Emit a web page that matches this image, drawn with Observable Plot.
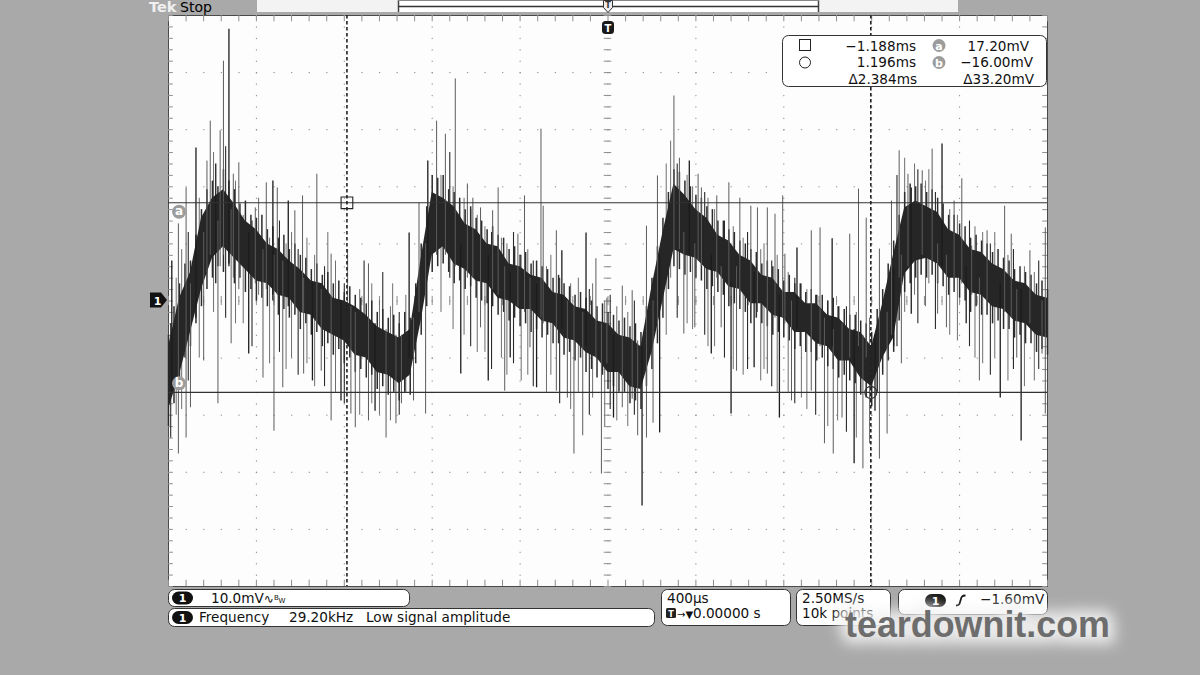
<!DOCTYPE html>
<html>
<head>
<meta charset="utf-8">
<script src="https://cdn.jsdelivr.net/npm/d3@7"></script>
<script src="https://cdn.jsdelivr.net/npm/@observablehq/plot@0.6"></script>
<style>
html,body{margin:0;padding:0;}
body{width:1200px;height:675px;background:#a9a9a9;position:relative;overflow:hidden;font-family:"DejaVu Sans",sans-serif;}
#chart{position:absolute;left:0;top:0;}
#overlay{position:absolute;left:0;top:0;}
</style>
</head>
<body>
<div id="chart"></div>
<svg id="overlay" width="1200" height="675"></svg>
<script>
// ---------------- data (time in µs, amplitude in mV) ----------------
// dense core of the trace
const bandT = [-2000,-1950,-1900,-1850,-1800,-1750,-1700,-1650,-1600,-1550,-1500,-1450,-1400,-1350,-1300,-1250,-1200,-1150,-1100,-1050,
  -1000,-950,-900,-850,-800,-750,-700,-650,-600,-550,-500,-450,-400,-350,-300,-250,-200,-150,-100,-50,
  0,50,100,150,200,250,300,350,400,450,500,550,600,650,700,750,800,850,900,950,
  1000,1050,1100,1150,1200,1250,1300,1350,1400,1450,1500,1550,1600,1650,1700,1750,1800,1850,1900,1950,2000];
const bandLo = [-19,-13,-5.5,2,7.5,9.5,7.5,5.5,3.5,3,1,0.5,-2,-2.5,-5,-6,-7,-9.5,-10,-12.5,
  -13,-14.5,-13,-3.5,8,9.5,6.5,5.5,3.5,3,0.5,0,-1.5,-1.5,-3.5,-4,-6.5,-7,-9,-10,
  -12.5,-12.5,-15,-15.5,-9,0,9,8,7.5,5.5,5,2.5,2,-0.5,-0.5,-2.5,-3,-5.5,-5.5,-7.5,
  -8,-10.5,-10.5,-13.5,-15,-10,-6.5,4.7,7,7.5,6.5,4,4,1.5,1,-1,-1.5,-3.5,-4,-6,-6.5];
const bandHi = [-8,0.5,5,14.5,18,19.5,17,14,12.5,10,9,7,5.5,3.5,3,0.5,0,-1,-2.5,-4.5,
  -5.5,-6.5,-5,7.5,19,18,16.5,13.5,12.5,10,9.5,6.5,6,4.5,4,1.5,1,-1,-1.5,-3.5,
  -4,-6,-6.5,-8,2.5,12,20.5,18.5,16,14.5,11.5,10.5,8,7,4.5,4,1.5,1.5,-0.5,-0.5,
  -2.5,-3,-5,-5.5,-8,-0.5,8.2,16.3,17.5,16.5,15.5,12.5,11.5,9,8.5,6.5,5.5,3.5,3,1,0.5];
// ragged outer edge of the trace, every 25 µs
const fringeT = [-2000,-1975,-1950,-1925,-1900,-1875,-1850,-1825,-1800,-1775,-1750,-1725,-1700,-1675,-1650,-1625,-1600,-1575,-1550,-1525,
  -1500,-1475,-1450,-1425,-1400,-1375,-1350,-1325,-1300,-1275,-1250,-1225,-1200,-1175,-1150,-1125,-1100,-1075,-1050,-1025,
  -1000,-975,-950,-925,-900,-875,-850,-825,-800,-775,-750,-725,-700,-675,-650,-625,-600,-575,-550,-525,
  -500,-475,-450,-425,-400,-375,-350,-325,-300,-275,-250,-225,-200,-175,-150,-125,-100,-75,-50,-25,
  0,25,50,75,100,125,150,175,200,225,250,275,300,325,350,375,400,425,450,475,
  500,525,550,575,600,625,650,675,700,725,750,775,800,825,850,875,900,925,950,975,
  1000,1025,1050,1075,1100,1125,1150,1175,1200,1225,1250,1275,1300,1325,1350,1375,1400,1425,1450,1475,
  1500,1525,1550,1575,1600,1625,1650,1675,1700,1725,1750,1775,1800,1825,1850,1875,1900,1925,1950,1975,2000];
const fringeLo = [-22,-18,-15.5,-10,-8,-4,-1,2,4,6,5,6.5,3,4,1.5,2,0,0.5,-1,0,
  -2.5,-1.5,-3,-2.5,-5,-4,-6,-5.5,-8,-7.5,-9.5,-8.5,-11,-10,-12.5,-12,-13.5,-13,-15.5,-15,
  -16.5,-16,-17.5,-16,-16.5,-11,-6,-1,5,6,6.5,5,3,3.5,2,2.5,0.5,0,-0.5,-1,
  -2.5,-2,-3.5,-3,-4.5,-4,-5.5,-5,-6.5,-6,-7.5,-7.5,-9.5,-9,-10.5,-10,-12.5,-12,-13.5,-13,
  -15.5,-15,-16,-16,-18,-17.5,-19,-15,-12,-7.5,-3,2,6,5.5,4.5,5,4,3.5,2,2.5,
  1.5,1,-1,-0.5,-1.5,-2,-4,-3,-4,-4.5,-6,-5.5,-6.5,-7,-8.5,-8,-9,-9,-10.5,-10,
  -11.5,-12,-13.5,-13,-14,-14.5,-16.5,-17,-18.5,-16,-13,-10.5,-9,-3.5,1.5,3,4,4.5,4,4.5,
  3,2.5,1,1.5,0.5,0,-2,-1,-2.5,-2.5,-4,-3.5,-5,-5,-6.5,-6,-7.5,-7.5,-9,-8.5,-9.5];
const fringeHi = [-6,-1,3,6.5,7,11.5,16,19.5,21,20,23,21,19.5,17,17.5,15,14.5,15,12.5,13,
  11,11.5,9,10,8,7.5,5.5,6.5,4.5,5,3,3.5,1.5,2.5,1,0.5,-0.5,0,-2,-1.5,
  -3,-2.5,-4,-2,-3,3,10,16.5,22,21.5,22,19.5,19,18,16,16.5,14.5,14,12.5,13,
  11.5,11,9,9.5,8,8.5,6.5,7,6,5.5,4,4.5,3,2.5,1,1.5,0.5,0,-1,-0.5,
  -2,-2.5,-3.5,-3,-4.5,-4,-5.5,-1,4,9.5,14.5,19,23,22.5,21,20,18.5,18,16.5,16,
  14,14,12.5,12,10.5,10,9,8.5,6.5,7,6,5.5,3.5,4.5,3,3,1.5,2,1,1,
  0,0.5,-1,-1.5,-2.5,-2.5,-3.5,-4,-5.5,-1.5,2,6.5,10.5,15,19,20.5,20,20.5,19,19.5,
  18,17,15,15,13.5,13,11,11.5,10.5,10,8.5,9,7.5,7,5.5,6,5,4.5,3,3.5,2];
// medium excursions around the trace: [time µs, low mV, high mV]
const hairs = [
  [-1990,-24,-4],[-1965,-20,4],[-1940,-19,9],[-1910,-14,12],[-1860,-10,18],[-1795,-2,26],[-1740,-3,27],[-1695,-4,21],
  [-1660,-4,15],[-1620,-8,14],[-1590,1,18],[-1540,-11,11],[-1495,-9,14],[-1465,-12,10],[-1440,-10,12],[-1410,-13,9],
  [-1370,-11,11],[-1335,-15,8],[-1290,-15,6],[-1275,-4,12],[-1240,-16,7],[-1200,-18,3],[-1185,-6,9],[-1130,-20,2],
  [-1110,-6,7],[-1075,-18,3],[-1040,-20,0],[-1025,-9,5],[-990,-21,-1],[-980,-10,3],[-950,-20,-2],[-920,-16,1],
  [-760,-2,22],[-720,4,26],[-705,-5,20],[-655,-6,18],[-625,-8,16],[-595,-9,15],[-560,-9,13],[-530,-12,12],
  [-485,-10,11],[-460,-13,10],[-430,-11,12],[-395,-14,8],[-365,-13,9],[-340,-15,7],[-280,-16,6],[-260,-13,8],
  [-220,-18,4],[-170,-19,3],[-135,-16,4],[-85,-20,2],[-70,-17,3],[-15,-22,0],[10,-19,1],[40,-21,-1],
  [90,-22,-2],[120,-20,0],[265,-6,24],[285,4,28],[315,-3,24],[360,-4,22],[385,-5,20],[440,-6,19],
  [455,-8,18],[485,-8,16],[530,-10,14],[570,-12,13],[615,-13,11],[635,-12,12],[695,-14,9],[710,-12,10],
  [745,-15,7],[770,-16,8],[820,-16,5],[850,-18,4],[880,-17,3],[905,-19,2],[945,-20,1],[1000,-22,0],
  [1045,-21,-1],[1085,-23,-1],[1130,-24,-2],[1190,-25,-3],[1315,-8,22],[1350,-2,25],[1395,1,24],[1410,-4,23],
  [1445,-1,21],[1460,3,23],[1490,-5,19],[1555,-6,16],[1590,-7,15],[1645,-8,14],[1670,-10,13],[1705,-11,12],
  [1740,-13,10],[1760,-10,12],[1820,-14,8],[1845,-12,9],[1895,-15,6],[1940,-14,5],[1960,-12,7]
];
// isolated large excursions: [time µs, low mV, high mV]
const spikes = [
  [-1985,-15.8,7.0],[-1955,-26.8,13.5],[-1920,-24.0,19.8],[-1900,-18.7,3],[-1875,-3,26.8],
  [-1840,-10.5,12],[-1825,5,24.5],[-1810,8,31.5],[-1785,3,24],[-1775,-18,14],
  [-1765,6,29.8],[-1750,8,42],[-1725,6,47.6],[-1715,-7.5,16],[-1705,4,22.2],
  [-1680,2,24.2],[-1635,-9.3,12],[-1605,3,16.3],[-1570,-13.5,9],[-1555,2,20.7],
  [-1525,1,21],[-1520,-22.8,8],[-1505,1,19.8],[-1480,-15.2,7],[-1455,-1,17.5],
  [-1425,-2,15.8],[-1390,-2,18.4],[-1385,-12.8,4],[-1345,-14,3],[-1325,-4,22.2],
  [-1305,-12.3,2],[-1260,-21,8.2],[-1215,-17.5,0],[-1170,-19.8,-1],[-1150,-22.2,-2],
  [-1090,-21,6.5],[-1060,-19.3,-4],[-1010,-24,-5],[-965,-21.5,-6],[-940,-18,-6],
  [-905,-10,11.9],[-885,-17.5,-3],[-860,-2,17.2],[-830,-19.8,10],[-820,6,24.5],
  [-780,8,31.5],[-740,8,29.2],[-695,6,38.9],[-670,-12.8,10],[-640,4,20.5],
  [-615,4,18],[-580,-4.7,16.3],[-545,-14,8],[-525,2,15.8],[-500,1,19.8],
  [-470,-15.8,6],[-445,-10,5],[-410,-1,11.7],[-380,-2,18.4],[-355,-8.2,4],
  [-325,-15.2,3],[-305,-3,30.1],[-295,-4,16.6],[-235,-15.8,12.3],[-210,-5,8.8],
  [-185,-17,0],[-155,-26.8,-1],[-115,-23.6,-2],[-100,-8,11.9],[-55,-10,7.4],
  [-30,-30.3,-4],[-5,-11,0.5],[25,-20.5,-6],[65,-18.7,2.6],[110,-17.2,1.8],
  [135,-23.6,-7],[155,-35.9,-8],[175,-24,13.1],[205,-21.4,0],[225,-5,21.9],
  [235,-23.1,8],[300,9,35.9],[325,9,25],[345,-5.8,12],[370,8,24.5],
  [395,-4.7,10],[410,7,22.2],[425,6,19.8],[470,-9.3,8],[495,4,18.4],
  [515,-4.7,6],[550,2,20.7],[560,-19.8,3],[585,-12.3,6],[600,1,18],
  [650,-1,16.6],[665,-11.7,5],[680,-2,16.3],[725,-12.8,16.3],[760,-3,15.2],
  [780,-20.5,1],[795,-3,18.4],[805,-4,8.2],[835,-17.5,0],[860,-5,9.3],
  [925,-15.8,12.3],[965,-8,12.8],[985,-25,-3],[1020,-8,10.9],[1025,-26.8,-5],
  [1065,-20.5,-4],[1100,-10,11.7],[1120,-28.5,-5],[1140,-8,19.6],[1160,-29.4,-6],
  [1175,-10,14.5],[1215,-19.3,-6],[1235,-27.7,9.1],[1270,-23.3,-2],[1290,-6,17.5],
  [1300,-8,5.8],[1325,4,26.3],[1335,-11,8],[1365,6,22.2],[1380,-2.3,19.8],
  [1430,8,22.8],[1475,7,26.6],[1500,-2.3,10],[1520,6,27.5],[1540,-4.7,8],
  [1575,4,17.5],[1610,3,21.4],[1630,-4,6],[1655,1,9.6],[1690,-14,4],
  [1725,0,12.3],[1785,-17,3],[1805,-2,16.6],[1835,-3,11.7],[1860,-10,2],
  [1880,-24.5,2],[1920,-4,8.8],[1975,-9.3,0],[1990,-19.8,12.8]
];
const cursorT = [-1188, 1196];     // µs
const cursorV = [17.20, -16.00];   // mV
const cursorNames = ["a", "b"];
const majorT = [-1600,-1200,-800,-400,0,400,800,1200,1600];
const majorV = [-40,-30,-20,-10,0,10,20,30,40];
const chScale = "10.0mV";
const measName = "Frequency", measValue = "29.20kHz", measNote = "Low signal amplitude";
const timebase = "400µs", trigPos = "0.00000 s";
const sampleRate = "2.50MS/s", recordLen = "10k points";
const trigLevel = "−1.60mV";
const watermark = "teardownit.com";

// ---------------- chart ----------------
const band = bandT.map((t, i) => ({t, lo: bandLo[i], hi: bandHi[i]}));
const fringe = fringeT.map((t, i) => ({t, lo: fringeLo[i], hi: fringeHi[i]}));
const toRows = a => a.map(([t, lo, hi]) => ({t, lo, hi}));
const hair = toRows(hairs);
const spk = toRows(spikes);
const minorT = d3.range(-2000, 2000.1, 80);
const minorV = d3.range(-50, 50.1, 2);
const grid = "#8e8e8e";

const chart = Plot.plot({
  width: 1200, height: 675,
  marginLeft: 168, marginRight: 153, marginTop: 15, marginBottom: 89,
  x: {domain: [-2000, 2000], axis: null},
  y: {domain: [-50, 50], axis: null},
  style: {background: "transparent", fontFamily: "DejaVu Sans", overflow: "visible"},
  marks: [
    Plot.frame({fill: "#fdfdfd", stroke: "#4a4a4a"}),
    Plot.ruleX(majorT, {stroke: grid, strokeDasharray: "1.3 10.12"}),
    Plot.ruleY(majorV, {stroke: grid, strokeDasharray: "1.3 16.28"}),
    Plot.ruleX(minorT, {x: d => d, y1: -0.8, y2: 0.8, stroke: grid}),
    Plot.ruleY(minorV, {y: d => d, x1: -17, x2: 17, stroke: grid}),
    Plot.ruleX(minorT, {x: d => d, y1: 50, y2: 48.9, stroke: grid}),
    Plot.ruleX(minorT, {x: d => d, y1: -50, y2: -48.9, stroke: grid}),
    Plot.ruleY(minorV, {y: d => d, x1: -2000, x2: -1978, stroke: grid}),
    Plot.ruleY(minorV, {y: d => d, x1: 2000, x2: 1978, stroke: grid}),
    Plot.ruleX(hair.filter((d, i) => i % 3 !== 0), {x: "t", y1: "lo", y2: "hi", stroke: "#6e6e6e", strokeWidth: 1}),
    Plot.ruleX(hair.filter((d, i) => i % 3 === 0), {x: "t", y1: "lo", y2: "hi", stroke: "#2a2a2a", strokeWidth: 1.1}),
    Plot.ruleX(fringe, {x: "t", y1: "lo", y2: "hi", stroke: "#2c2c2c", strokeWidth: 1.5}),
    Plot.areaY(band, {x: "t", y1: "lo", y2: "hi", fill: "#262626"}),
    Plot.ruleX(spk.filter((d, i) => i % 4 !== 0), {x: "t", y1: "lo", y2: "hi", stroke: "#5c5c5c", strokeWidth: 1}),
    Plot.ruleX(spk.filter((d, i) => i % 4 === 0), {x: "t", y1: "lo", y2: "hi", stroke: "#1c1c1c", strokeWidth: 1.3}),
    Plot.ruleY(cursorV, {stroke: "#333", strokeWidth: 1.1}),
    Plot.ruleX(cursorT, {stroke: "#222", strokeWidth: 1.6, strokeDasharray: "3.5 2.5"}),
    Plot.dot([{t: cursorT[0], v: cursorV[0]}], {x: "t", y: "v", symbol: "square", r: 6.6, stroke: "#222", fill: "none", strokeWidth: 1.1}),
    Plot.dot([{t: cursorT[1], v: cursorV[1]}], {x: "t", y: "v", r: 6, stroke: "#333", fill: "none", strokeWidth: 1.1}),
    Plot.dot([{v: cursorV[0]}], {x: () => -1952, y: "v", dy: 9, r: 7, fill: "#9c9c9c"}),
    Plot.text([{v: cursorV[0]}], {x: () => -1952, y: "v", dy: 8.5, text: () => cursorNames[0], fill: "white", fontWeight: "bold", fontSize: 12}),
    Plot.dot([{v: cursorV[1]}], {x: () => -1952, y: "v", dy: -9, r: 7, fill: "#9c9c9c"}),
    Plot.text([{v: cursorV[1]}], {x: () => -1952, y: "v", dy: -9.5, text: () => cursorNames[1], fill: "white", fontWeight: "bold", fontSize: 12})
  ]
});
document.getElementById("chart").appendChild(chart);

// ---------------- overlay: scope chrome ----------------
const fT = v => d3.format(".3f")(v / 1000) + "ms";
const fV = v => d3.format(".2f")(v) + "mV";
const pill = (x, y) => `<rect x="${x}" y="${y}" width="21" height="13" rx="6.5" fill="#111"/>
  <text x="${x + 10.5}" y="${y + 10.5}" font-size="11" font-weight="bold" fill="#fff" text-anchor="middle">1</text>`;

document.getElementById("overlay").innerHTML = `
<defs><filter id="glow" x="-20%" y="-80%" width="140%" height="260%"><feGaussianBlur stdDeviation="7"/></filter></defs>
<g font-family="DejaVu Sans" font-size="13.6" fill="#111">
  <text x="149" y="12" font-size="14.5" font-weight="bold" fill="#f0f0f0">Tek</text>
  <text x="180" y="12" font-size="14" fill="#000">Stop</text>
  <rect x="257" y="0" width="701" height="12" fill="#f3f3f3"/>
  <rect x="398" y="0" width="421" height="12" fill="#fff"/>
  <path d="M398.5,0V12M818.5,0V12" stroke="#444" stroke-width="1.5"/>
  <path d="M398,6.5H819" stroke="#333" stroke-width="1.3"/>
  <path d="M398,0.5H819" stroke="#888" stroke-width="1"/>
  <path d="M603.5,0.5h9v7l-4.5,5l-4.5,-5z" fill="#eee" stroke="#333"/>
  <text x="608" y="8" font-size="8" font-weight="bold" text-anchor="middle" fill="#333">T</text>
  <rect x="602" y="21" width="12" height="13" rx="3.5" fill="#1a1a1a"/>
  <text x="608" y="31.5" font-size="10" font-weight="bold" text-anchor="middle" fill="#fff">T</text>

  <path d="M150,292.5H161L167,300L161,307.5H150Z" fill="#111"/>
  <text x="157.5" y="304.5" font-size="11" font-weight="bold" text-anchor="middle" fill="#fff">1</text>

  <rect x="782.5" y="35.5" width="264" height="51" rx="6" fill="#fff" stroke="#333"/>
  <rect x="799.5" y="39.5" width="11" height="11" fill="none" stroke="#222"/>
  <circle cx="805" cy="62.5" r="5.5" fill="none" stroke="#222"/>
  <text x="916" y="50.5" text-anchor="end">${fT(cursorT[0])}</text>
  <text x="916" y="67" text-anchor="end">${fT(cursorT[1])}</text>
  <text x="917" y="84" text-anchor="end">Δ${fT(cursorT[1] - cursorT[0])}</text>
  <circle cx="939" cy="45.5" r="6.5" fill="#9c9c9c"/>
  <text x="939" y="49.5" font-size="11" font-weight="bold" fill="#fff" text-anchor="middle">${cursorNames[0]}</text>
  <circle cx="939" cy="62.5" r="6.5" fill="#9c9c9c"/>
  <text x="939" y="66.5" font-size="11" font-weight="bold" fill="#fff" text-anchor="middle">${cursorNames[1]}</text>
  <text x="1029" y="50.5" text-anchor="end">${fV(cursorV[0])}</text>
  <text x="1033" y="67" text-anchor="end">${fV(cursorV[1])}</text>
  <text x="1034" y="84" text-anchor="end">Δ${fV(cursorV[0] - cursorV[1])}</text>

  <rect x="168.5" y="589.5" width="241" height="17" rx="6" fill="#fff" stroke="#333"/>
  ${pill(172, 591.5)}
  <text x="211" y="603">${chScale}<tspan font-size="12">∿</tspan><tspan font-size="7" dy="-3">B</tspan><tspan font-size="7" dy="3">W</tspan></text>
  <rect x="168.5" y="608.5" width="486" height="18" rx="6" fill="#fff" stroke="#333"/>
  ${pill(172, 611)}
  <text x="199" y="622">${measName}</text>
  <text x="289" y="622">${measValue}</text>
  <text x="366" y="622">${measNote}</text>

  <rect x="661.5" y="589.5" width="129" height="36" rx="6" fill="#fff" stroke="#333"/>
  <text x="667" y="603">${timebase}</text>
  <rect x="666" y="608" width="10" height="10" rx="1.5" fill="#222"/>
  <text x="671" y="616.5" font-size="8" font-weight="bold" fill="#fff" text-anchor="middle">T</text>
  <text x="677" y="618"><tspan font-size="10">→▼</tspan><tspan x="693">${trigPos}</tspan></text>

  <rect x="796.5" y="589.5" width="94" height="36" rx="6" fill="#fff" stroke="#333"/>
  <text x="802" y="603">${sampleRate}</text>
  <text x="802" y="618">${recordLen}</text>

  <rect x="898.5" y="589.5" width="149" height="25" rx="6" fill="#fff" stroke="#333"/>
  ${pill(925, 594)}
  <path d="M956,605.5c3,0 3.5,-1 4.5,-5s1.5,-5 5,-5" fill="none" stroke="#111" stroke-width="1.8"/>
  <text x="980" y="604">${trigLevel}</text>
</g>
<text x="845" y="637" font-family="Liberation Sans" font-weight="bold" font-size="36" textLength="265" lengthAdjust="spacingAndGlyphs" fill="none" stroke="#f2f2f2" stroke-width="14" filter="url(#glow)" opacity="0.9">${watermark}</text>
<text x="845" y="637" font-family="Liberation Sans" font-weight="bold" font-size="36" textLength="265" lengthAdjust="spacingAndGlyphs" fill="#6d6d6d">${watermark}</text>
`;
</script>
</body>
</html>
